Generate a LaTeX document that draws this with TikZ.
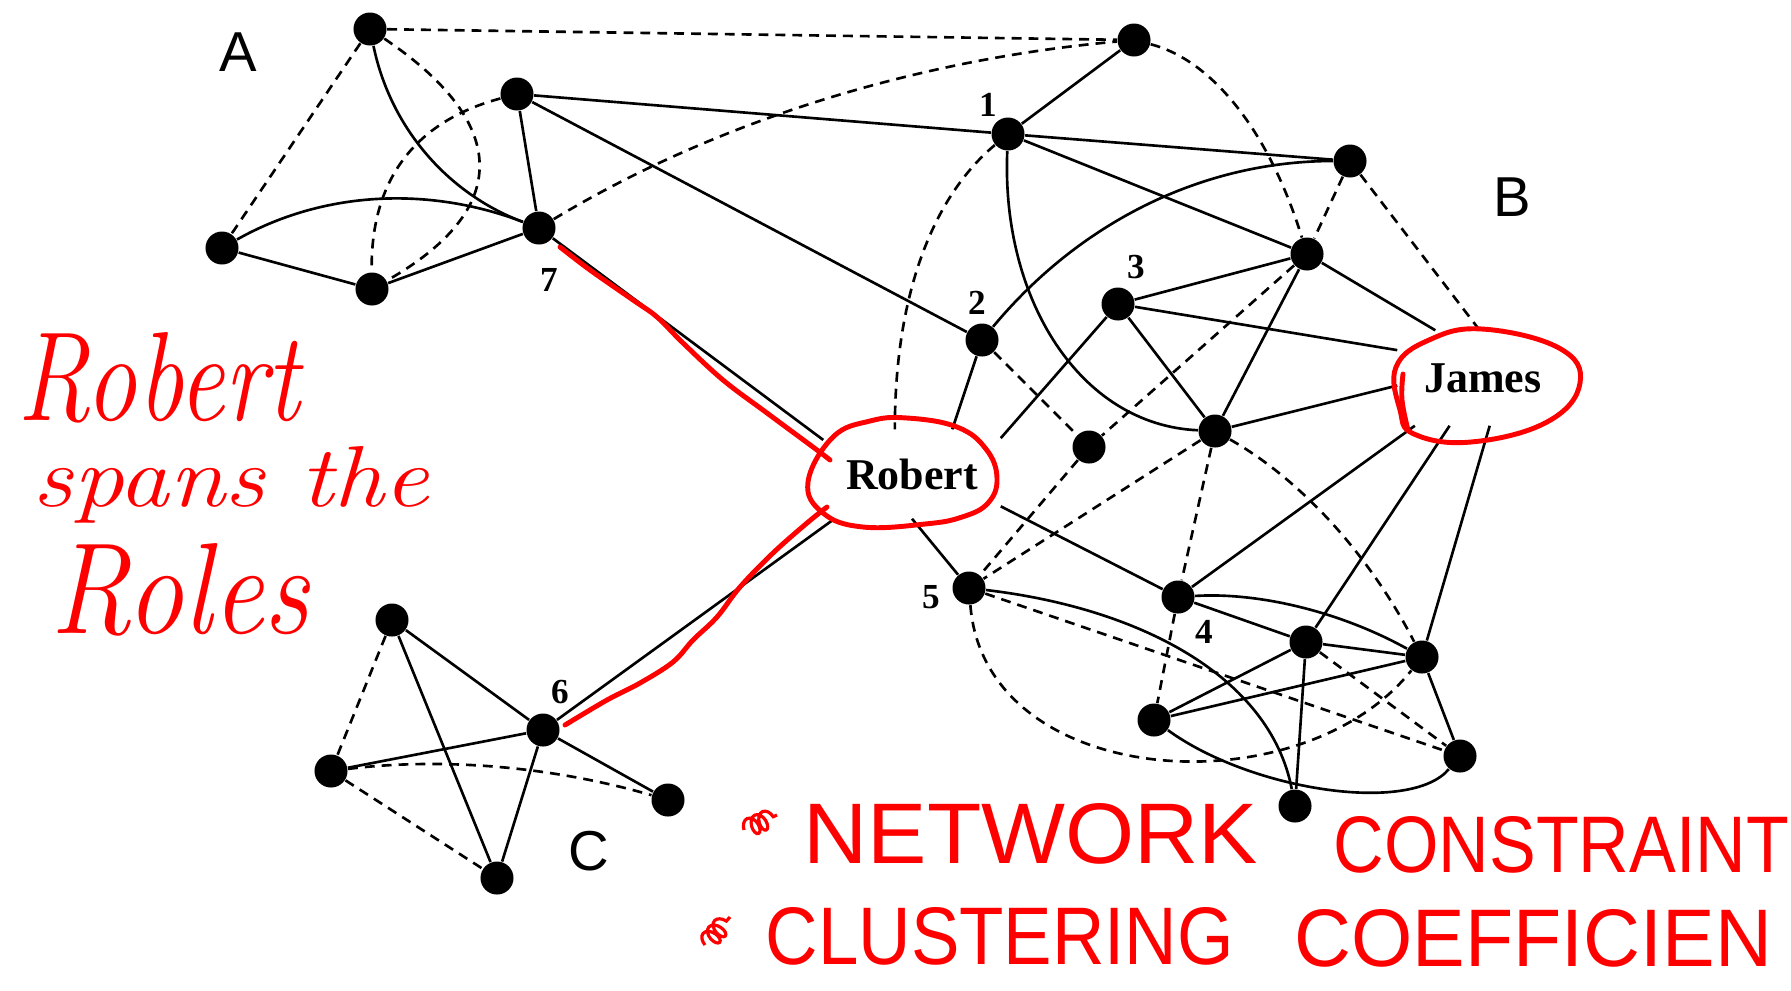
\documentclass[tikz,border=0pt]{standalone}
\usepackage{fontspec}
\newfontfamily\tnr{Liberation Serif}
\newfontfamily\arial{Liberation Sans}
\usetikzlibrary{decorations.pathmorphing}
\begin{document}
\begin{tikzpicture}[x=0.01cm, y=-0.01cm,
  dot/.style={circle, fill=black, inner sep=0pt, minimum size=0.33cm},
  tie/.style={black, line width=0.75pt},
  weak/.style={black, line width=0.75pt, dash pattern=on 2.8pt off 2pt},
  num/.style={font=\tnr\bfseries\fontsize{10}{12}\selectfont, inner sep=0pt},
  grp/.style={font=\arial\fontsize{16}{19}\selectfont, inner sep=0pt},
  actor/.style={rectangle, inner sep=0pt, font=\tnr\bfseries\fontsize{12.5}{15}\selectfont},
  ink/.style={red, line width=1.4pt, line cap=round, line join=round},
  hand/.style={red, inner sep=0pt, anchor=base west, font=\itshape\fontsize{27}{30}\selectfont},
  caps/.style={red, inner sep=0pt, anchor=base west, font=\arial\fontsize{20}{24}\selectfont},
  bullet/.style={red, line width=0.9pt, decorate,
    decoration={coil, aspect=0.6, segment length=2.4pt, amplitude=2.6pt}}]
\useasboundingbox (0,0) rectangle (1791,990);

% ---- cluster A ----
\node[dot] (a1) at (370,29) {};
\node[dot] (a2) at (517,94) {};
\node[dot] (n7) at (539,228) {};
\node[dot] (a4) at (222,248) {};
\node[dot] (a5) at (372,289) {};
% ---- cluster B and the broker region ----
\node[dot] (t)   at (1134,40) {};
\node[dot] (n1)  at (1008,134) {};
\node[dot] (nr)  at (1350,161) {};
\node[dot] (nB2) at (1307,254) {};
\node[dot] (n3)  at (1118,304) {};
\node[dot] (n2)  at (982,340) {};
\node[dot] (ns)  at (1089,447) {};
\node[dot] (nc)  at (1215,431) {};
\node[dot] (n5)  at (969,588) {};
\node[dot] (n4)  at (1178,597) {};
\node[dot] (m1)  at (1306,642) {};
\node[dot] (m2)  at (1422,657) {};
\node[dot] (m3)  at (1154,720) {};
\node[dot] (m4)  at (1460,756) {};
\node[dot] (m5)  at (1295,806) {};
% ---- cluster C ----
\node[dot] (c1) at (392,620) {};
\node[dot] (n6) at (543,730) {};
\node[dot] (c3) at (331,771) {};
\node[dot] (c4) at (668,800) {};
\node[dot] (c5) at (497,878) {};

% ---- named actors ----
\node[actor, minimum width=1.76cm, minimum height=0.88cm] (rob) at (912,474) {Robert};
\node[actor, minimum width=1.70cm, minimum height=0.94cm] (jam) at (1483,378) {James};

% ---- labels ----
\node[num] (l1) at (988,105) {1};
\node[num] (l2) at (977,303) {2};
\node[num] (l3) at (1136,267) {3};
\node[num] (l4) at (1204,632) {4};
\node[num] (l5) at (931,597) {5};
\node[num] (l6) at (560,692) {6};
\node[num] (l7) at (549,280) {7};
\node[grp] (gA) at (238,52) {A};
\node[grp] (gB) at (1512,197) {B};
\node[grp] (gC) at (589,851) {C};

% ---- curved ties ----
\draw[tie]  (a1) .. controls +(20,97) and +(-93,-35) .. (n7);
\draw[weak] (a1) .. controls +(141,95) and +(139,-79) .. (a5);
\draw[weak] (a2) .. controls +(-97,26) and +(-2,-114) .. (a5);
\draw[tie]  (a4) .. controls +(99,-56) and +(-113,-43) .. (n7);
\draw[weak] (n7) .. controls +(174,-105) and +(-222,20) .. (t);
\draw[weak] (t) .. controls +(78,20) and +(-38,-123) .. (nB2);
\draw[weak] (n1) .. controls +(-74,62) and +(0,-137) .. (rob.111);
\draw[tie]  (n1) .. controls +(-7,165) and +(-135,-6) .. (nc);
\draw[tie]  (n2) .. controls +(99,-119) and +(-146,0) .. (nr);
\draw[weak] (nc) .. controls +(85,48) and +(-53,-103) .. (m2);
\draw[weak] (n5) .. controls +(16,202) and +(-122,153) .. (m2);
\draw[tie]  (m3) .. controls +(96,70) and +(-50,59) .. (m4);
\draw[tie]  (n5) .. controls +(170,20) and +(-25,-130) .. (m5);
\draw[tie]  (n4) .. controls +(81,-5) and +(-81,-45) .. (m2);
\draw[weak] (c3) .. controls +(113,-14) and +(-113,-33) .. (c4);

% ---- straight strong ties ----
\draw[tie] (a2) -- (n7);
\draw[tie] (a2) -- (n1);
\draw[tie] (a2) -- (n2);
\draw[tie] (a4) -- (a5);
\draw[tie] (a5) -- (n7);
\draw[tie] (n7) -- (rob.159);
\draw[tie] (t) -- (n1);
\draw[tie] (n1) -- (nr);
\draw[tie] (n1) -- (nB2);
\draw[tie] (nB2) -- (n3);
\draw[tie] (nB2) -- (jam.135);
\draw[tie] (nB2) -- (nc);
\draw[tie] (n3) -- (jam.162);
\draw[tie] (n3) -- (nc);
\draw[tie] (n3) -- (rob.22);
\draw[tie] (nc) -- (jam.185);
\draw[tie] (n2) -- (rob.48);
\draw[tie] (rob.340) -- (n4);
\draw[tie] (rob.270) -- (n5);
\draw[tie] (jam.215) -- (n4);
\draw[tie] (jam.235) -- (m1);
\draw[tie] (jam.278) -- (m2);
\draw[tie] (n4) -- (m1);
\draw[tie] (m1) -- (m2);
\draw[tie] (m1) -- (m3);
\draw[tie] (m1) -- (m5);
\draw[tie] (m3) -- (m2);
\draw[tie] (m2) -- (m4);
\draw[tie] (n6) -- (rob.210);
\draw[tie] (c1) -- (n6);
\draw[tie] (c1) -- (c5);
\draw[tie] (c3) -- (n6);
\draw[tie] (n6) -- (c4);
\draw[tie] (n6) -- (c5);

% ---- straight weak ties ----
\draw[weak] (a1) -- (t);
\draw[weak] (a1) -- (a4);
\draw[weak] (nr) -- (nB2);
\draw[weak] (nr) -- (jam.94);
\draw[weak] (nB2) -- (ns);
\draw[weak] (ns) -- (n5);
\draw[weak] (n2) -- (ns);
\draw[weak] (nc) -- (n5);
\draw[weak] (nc) -- (n4);
\draw[weak] (n4) -- (m3);
\draw[weak] (n5) -- (m4);
\draw[weak] (m1) -- (m4);
\draw[weak] (c1) -- (c3);
\draw[weak] (c3) -- (c5);

% ---- red ink: rings round the two brokers ----
\draw[ink] plot[smooth cycle, tension=0.7] coordinates
  {(808,482) (833,437) (870,421) (907,418) (957,427) (986,449) (997,478)
   (988,503) (962,517) (925,524) (863,527) (823,513)};
\draw[ink] plot[smooth cycle, tension=0.7] coordinates
  {(1396,367) (1400,410) (1414,434) (1471,442) (1547,422) (1580,383)
   (1559,348) (1482,329) (1429,340)};
\draw[ink] plot[smooth, tension=0.7] coordinates {(1403,374) (1402,400) (1408,430)};

% ---- red ink: strokes along Robert's bridging ties ----
\draw[ink] plot[smooth, tension=0.6] coordinates
  {(560,247) (590,270) (633,300) (657,317) (683,343) (723,380) (767,413) (817,450) (830,460)};
\draw[ink] plot[smooth, tension=0.6] coordinates
  {(565,725) (607,700) (640,683) (673,662) (693,640) (717,617) (740,587) (773,553) (807,523) (827,507)};

% ---- red ink: notes ----
\node[hand] (hw1) at (17,420) {\resizebox{2.82cm}{0.88cm}{Robert}};
\node[hand] (hw2) at (32,506) {\resizebox{3.96cm}{0.6cm}{spans the}};
\node[hand] (hw3) at (50,633) {\resizebox{2.58cm}{0.9cm}{Roles}};

\draw[bullet] (744,830) -- (777,815);
\draw[bullet] (705,945) -- (730,917);
\node[caps] (bl1) at (803,863) {\resizebox{4.54cm}{0.6cm}{NETWORK}};
\node[caps] (bl2) at (1333,872) {\resizebox{4.55cm}{0.56cm}{CONSTRAINT}};
\node[caps] (bl3) at (765,964) {\resizebox{4.68cm}{0.57cm}{CLUSTERING}};
\node[caps] (bl4) at (1294,966) {\resizebox{4.77cm}{0.57cm}{COEFFICIEN}};
\end{tikzpicture}
\end{document}
